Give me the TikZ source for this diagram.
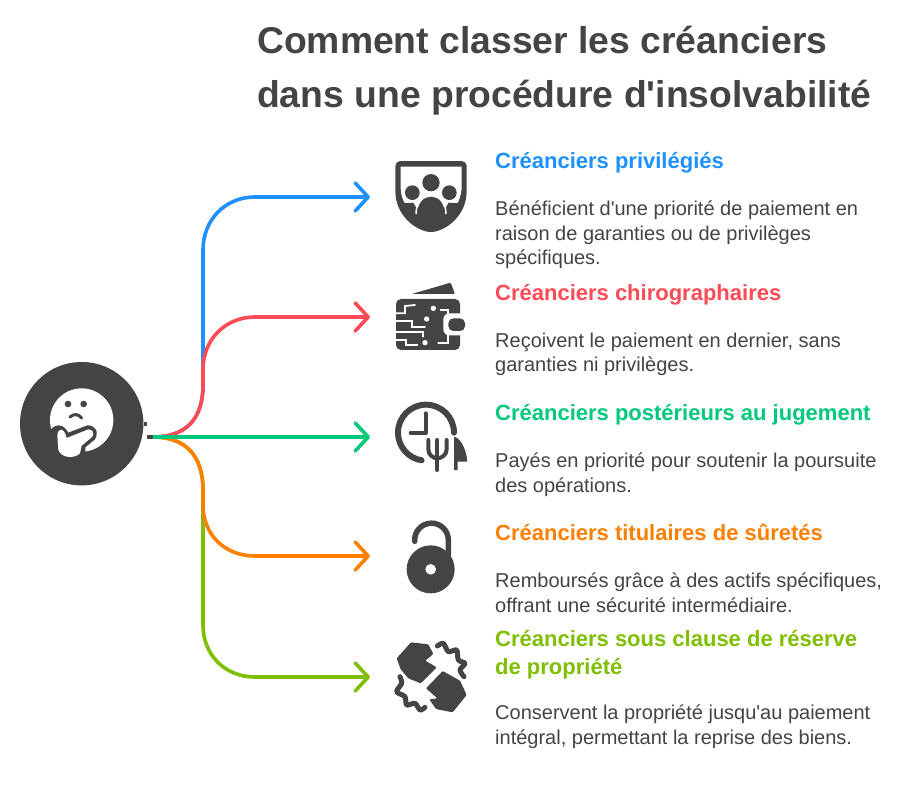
\documentclass[tikz,border=0pt]{standalone}
\usepackage{fontspec}
\setmainfont{Liberation Sans}
\usetikzlibrary{arrows.meta}
\definecolor{dark}{HTML}{444444}
\definecolor{cblue}{HTML}{1E90FF}
\definecolor{cred}{HTML}{FF4B55}
\definecolor{cgreen}{HTML}{00C97C}
\definecolor{corange}{HTML}{FF8000}
\definecolor{colive}{HTML}{7FBF00}
\begin{document}
\begin{tikzpicture}[
    x=1pt, y=-1pt,
    conn/.style={line width=3.6pt, line join=round, -{Straight Barb[round, length=13pt, width=28pt, line width=3.6pt]}},
    title/.style={font=\fontsize{37.3}{54}\selectfont\bfseries, text=dark, align=left, anchor=north west, inner sep=0pt},
    head/.style={font=\fontsize{22}{28}\selectfont\bfseries, align=left, anchor=north west, inner sep=0pt},
    body/.style={font=\fontsize{20}{24.3}\selectfont, text=dark, align=left, anchor=north west, inner sep=0pt},
    stroke/.style={draw=dark, line cap=round, line join=round},
  ]
  \useasboundingbox (0,0) rectangle (908,792);
  \fill[white] (0,0) rectangle (908,792);

  % title
  \node[title] (titre) at (257,26) {Comment classer les créanciers\\dans une procédure d\textquotesingle insolvabilité};

  % hub
  \node[circle, fill=dark, minimum size=123.4pt, inner sep=0pt] (hub) at (81.7,423.7) {};
  \coordinate (hubout) at (153,437);
  \coordinate (tippriv) at (370,197);
  \coordinate (tipchiro) at (370,317);
  \coordinate (tippost) at (370,437);
  \coordinate (tipsur) at (370,556);
  \coordinate (tipres) at (370,677);
  \draw[dark, line width=3.6pt] (hub.east) -- ++(3,0);
  \draw[dark, line width=4pt] (hubout) -- ++(-6,0);

  % face
  \begin{scope}[shift={(0,340)}, scale=1/3]
    \fill[white] (245,240) circle (95);
    \fill[dark] (204,192) circle (10) (251,192) circle (10);
    \draw[stroke, line width=3pt] (210,231) .. controls (222,220) and (235,222) .. (245,234);
    \fill[dark] (150,272) .. controls (165,250) and (190,250) .. (205,278) -- (262,256)
      .. controls (285,255) and (298,275) .. (285,298) -- (256,322) -- (256,345) -- (170,345) -- cycle;
    \fill[white] (172,285) .. controls (175,262) and (192,262) .. (200,294) -- (265,268)
      .. controls (280,268) and (285,282) .. (275,292) -- (245,317) -- (240,340)
      .. controls (225,356) and (185,356) .. (175,330) -- cycle;
  \end{scope}

  % connectors
  \draw[conn, cblue] (hubout) .. controls (185,437) and (203,420) .. (203,385) -- (203,250)
    .. controls (203,220) and (225,197) .. (255,197) -- (tippriv);
  \draw[conn, colive] (hubout) .. controls (185,437) and (203,455) .. (203,490) -- (203,625)
    .. controls (203,655) and (225,677) .. (255,677) -- (tipres);
  \draw[conn, cred] (hubout) .. controls (185,437) and (203,420) .. (203,385) -- (203,369)
    .. controls (203,340) and (225,317) .. (255,317) -- (tipchiro);
  \draw[conn, corange] (hubout) .. controls (185,437) and (203,455) .. (203,490) -- (203,505)
    .. controls (203,535) and (225,556) .. (255,556) -- (tipsur);
  \draw[conn, cgreen] (hubout) -- (tippost);

  % shield
  \begin{scope}[shift={(380,150)}, scale=1/3]
    \fill[dark, rounded corners=5pt] (46,33) -- (260,33) -- (260,115) .. controls (258,185) and (215,232) .. (153,248)
      .. controls (91,232) and (48,185) .. (46,115) -- cycle;
    \fill[white] (62,50) -- (245,50) -- (245,115) .. controls (243,135) and (238,150) .. (232,160) -- (196,172)
      -- (110,172) -- (75,160) .. controls (68,150) and (63,135) .. (62,115) -- cycle;
    \fill[dark] (153,98) circle (26) (97,128) circle (22) (208,128) circle (22);
    \fill[dark] (72,160) -- (100,158) -- (108,172) -- (108,215) -- (198,215) -- (198,172) -- (206,158) -- (235,160) -- (200,215) -- (108,215) -- cycle;
    \draw[white, line width=1.5pt] (108,192) .. controls (108,155) and (130,136) .. (153,136) .. controls (176,136) and (198,155) .. (198,192);
    \fill[dark] (112,192) .. controls (112,158) and (132,140) .. (153,140) .. controls (174,140) and (194,158) .. (194,192) -- cycle;
  \end{scope}

  % wallet
  \begin{scope}[shift={(380,150)}, scale=1/3]
    \fill[dark, rounded corners=1pt] (95,432) -- (212,398) -- (225,432) -- cycle;
    \fill[dark, rounded corners=5pt] (48,447) rectangle (240,600);
    \fill[white, rounded corners=6pt] (190,490) rectangle (262,556);
    \fill[dark, rounded corners=5pt] (205,505) rectangle (255,543);
    \draw[white, line width=1.8pt, line cap=round] (44,490) -- (75,490) -- (75,468) -- (105,465);
    \draw[white, line width=1.8pt, line cap=round] (44,512) -- (95,512) -- (95,530) -- (135,530);
    \draw[white, line width=1.8pt, line cap=round] (44,545) -- (130,545) -- (130,560);
    \draw[white, line width=1.8pt, line cap=round] (44,570) -- (78,570) -- (78,585) -- (112,585);
    \draw[white, line width=1.8pt, line cap=round] (182,480) -- (205,480) -- (205,505);
    \draw[white, line width=1.8pt, line cap=round] (175,578) -- (205,578) -- (205,550);
    \fill[white] (160,475) circle (8) (140,507) circle (8) (135,578) circle (8);
  \end{scope}

  % clock and cutlery
  \begin{scope}[shift={(380,390)}, scale=1/3]
    \draw[stroke, line width=6pt] (222,128) arc[start angle=0, end angle=-261, radius=84];
    \draw[stroke, line width=4pt] (137,70) -- (137,128) -- (92,128);
    \draw[stroke, line width=4pt] (145,150) -- (145,178) .. controls (145,195) and (160,205) .. (172,205)
      .. controls (184,205) and (200,195) .. (200,178) -- (200,150);
    \draw[stroke, line width=4pt] (172,150) -- (172,240);
    \fill[dark] (222,140) .. controls (245,145) and (260,185) .. (262,215) -- (233,215) -- (233,240) -- (222,240) -- cycle;
  \end{scope}

  % lock
  \begin{scope}[shift={(380,510)}, scale=1/3]
    \draw[stroke, line width=5.5pt] (104,94) -- (104,90) arc[start angle=-180, end angle=0, radius=50.5] -- (205,135);
    \fill[dark] (152,178) circle (72);
    \fill[white] (152,178) circle (16);
  \end{scope}

  % torn bags
  \begin{scope}[shift={(380,510)}, scale=1/3]
    \fill[dark, rounded corners=1pt] (50,445) -- (93,397) -- (145,403) -- (160,432) -- (136,452) -- (170,472) -- (122,520) -- (85,505) -- (62,478) -- cycle;
    \fill[dark, rounded corners=1pt] (138,535) -- (188,483) -- (240,512) -- (260,555) -- (218,607) -- (168,597) -- (148,568) -- (172,565) -- cycle;
    \draw[stroke, line width=5pt] plot[smooth] coordinates {(172,408) (190,400) (205,425) (230,420) (235,450) (255,460) (240,480) (252,500)};
    \draw[stroke, line width=5pt] plot[smooth] coordinates {(60,500) (65,520) (50,545) (75,560) (80,585) (105,580) (120,600) (135,592)};
  \end{scope}

  % texts
  \node[head, text=cblue] (hpriv) at (495,152) {Créanciers privilégiés};
  \node[body] (dpriv) at (495,201) {Bénéficient d\textquotesingle une priorité de paiement en\\raison de garanties ou de privilèges\\spécifiques.};
  \node[head, text=cred] (hchiro) at (495,284) {Créanciers chirographaires};
  \node[body] (dchiro) at (495,333) {Reçoivent le paiement en dernier, sans\\garanties ni privilèges.};
  \node[head, text=cgreen] (hpost) at (495,404) {Créanciers postérieurs au jugement};
  \node[body] (dpost) at (495,453) {Payés en priorité pour soutenir la poursuite\\des opérations.};
  \node[head, text=corange] (hsur) at (495,524) {Créanciers titulaires de sûretés};
  \node[body] (dsur) at (495,573) {Remboursés grâce à des actifs spécifiques,\\offrant une sécurité intermédiaire.};
  \node[head, text=colive] (hres) at (495,630) {Créanciers sous clause de réserve\\de propriété};
  \node[body] (dres) at (495,705) {Conservent la propriété jusqu\textquotesingle au paiement\\intégral, permettant la reprise des biens.};
\end{tikzpicture}
\end{document}
